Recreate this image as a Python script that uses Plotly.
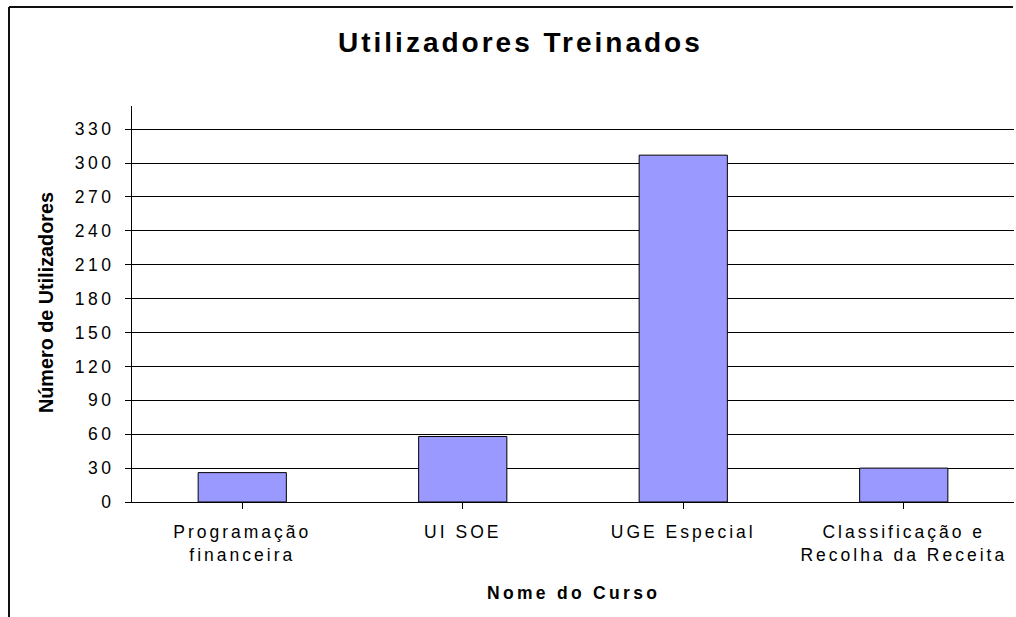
import plotly.graph_objects as go

# ---- data ----
categories = ["Programação<br>financeira", "UI SOE", "UGE Especial", "Classificação e<br>Recolha da Receita"]
values = [26, 58, 307, 30]
y_ticks = [0, 30, 60, 90, 120, 150, 180, 210, 240, 270, 300, 330]
chart_title = "Utilizadores Treinados"
x_title = "Nome do Curso"
y_title = "Número de Utilizadores"

# ---- layout constants ----
W, H = 1016, 617
L, R, T, B = 132, 2, 106, 115
PW, PH = W - L - R, H - T - B
FONT = "Liberation Sans, Arial, sans-serif"


def spaced(text, px):
    return "<br>".join(
        f"<span style='letter-spacing:{px}px'>{line}</span>" for line in text.split("<br>")
    )


def fx(px):
    return (px - L) / PW


def fy(py):
    return (H - B - py) / PH


fig = go.Figure()
fig.add_trace(go.Bar(
    x=list(range(len(categories))),
    y=values,
    width=0.4,
    marker=dict(color="#9999FF", line=dict(color="#000000", width=1)),
    hoverinfo="skip",
))

fig.update_layout(
    width=W, height=H,
    margin=dict(l=L, r=R, t=T, b=B, pad=0),
    paper_bgcolor="white", plot_bgcolor="white",
    showlegend=False,
    font=dict(family=FONT, color="black", size=17.5),
    xaxis=dict(
        range=[-0.5, len(categories) - 0.5],
        tickmode="array",
        tickvals=list(range(len(categories))),
        ticktext=[spaced(c, 3) for c in categories],
        showgrid=False, zeroline=False,
        showline=True, linecolor="black", linewidth=1,
        ticks="outside", ticklen=6, tickcolor="black", tickwidth=1,
        tickson="boundaries",
        ticklabelstandoff=8,
        tickfont=dict(size=17.5, family=FONT, color="black"),
    ),
    yaxis=dict(
        range=[0, 350.5],
        tickmode="array",
        tickvals=y_ticks,
        ticktext=[spaced(str(v), 3.5) for v in y_ticks],
        showgrid=True, gridcolor="black", gridwidth=1,
        zeroline=False,
        showline=True, linecolor="black", linewidth=1,
        ticks="outside", ticklen=6, tickcolor="black", tickwidth=1,
        ticklabelstandoff=7,
        tickfont=dict(size=17.5, family=FONT, color="black"),
    ),
    annotations=[
        dict(text=spaced(f"<b>{chart_title}</b>", 3), xref="paper", yref="paper",
             x=fx(520), y=fy(42), xanchor="center", yanchor="middle",
             showarrow=False, font=dict(size=28, family=FONT, color="black")),
        dict(text=spaced(f"<b>{x_title}</b>", 3.3), xref="paper", yref="paper",
             x=fx(573), y=fy(593), xanchor="center", yanchor="middle",
             showarrow=False, font=dict(size=17.5, family=FONT, color="black")),
        dict(text=f"<b>{y_title}</b>", xref="paper", yref="paper",
             x=fx(46), y=fy(303), xanchor="center", yanchor="middle", textangle=-90,
             showarrow=False, font=dict(size=19.8, family=FONT, color="black")),
    ],
    shapes=[
        dict(type="line", xref="paper", yref="paper", x0=fx(9), x1=fx(1013), y0=fy(7), y1=fy(7),
             line=dict(color="#111111", width=2)),
        dict(type="line", xref="paper", yref="paper", x0=fx(9), x1=fx(9), y0=fy(7), y1=fy(617),
             line=dict(color="#111111", width=2)),
    ],
)

fig.write_html("out.html", config={"displayModeBar": False},
               post_script="document.body.style.margin='0';")
